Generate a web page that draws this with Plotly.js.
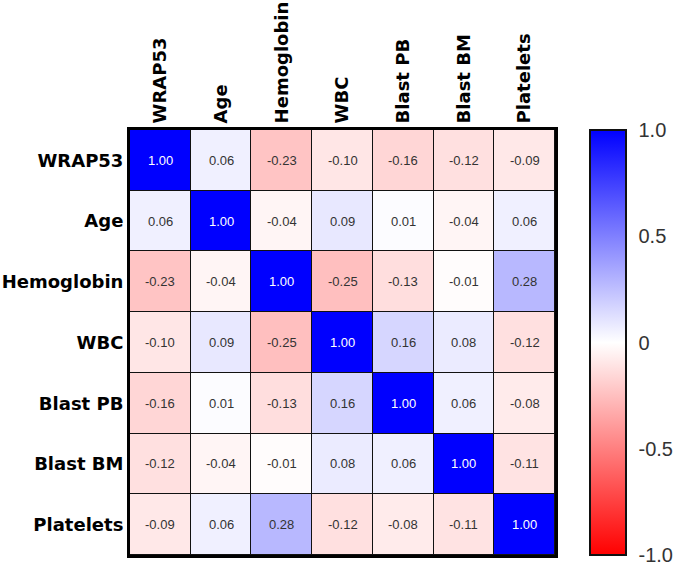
<!DOCTYPE html>
<html>
<head>
<meta charset="utf-8">
<script src="https://cdn.plot.ly/plotly-3.0.1.min.js"></script>
<style>body{margin:0;background:#fff}</style>
</head>
<body>
<div id="myDiv"></div>
<script>
var labels = ['WRAP53', 'Age', 'Hemoglobin', 'WBC', 'Blast PB', 'Blast BM', 'Platelets'];

var corr = [
  [1.00, 0.06, -0.23, -0.10, -0.16, -0.12, -0.09],
  [0.06, 1.00, -0.04, 0.09, 0.01, -0.04, 0.06],
  [-0.23, -0.04, 1.00, -0.25, -0.13, -0.01, 0.28],
  [-0.10, 0.09, -0.25, 1.00, 0.16, 0.08, -0.12],
  [-0.16, 0.01, -0.13, 0.16, 1.00, 0.06, -0.08],
  [-0.12, -0.04, -0.01, 0.08, 0.06, 1.00, -0.11],
  [-0.09, 0.06, 0.28, -0.12, -0.08, -0.11, 1.00]
];

var cbTicks = [-1, -0.5, 0, 0.5, 1];
var cbText = ['-1.0', '-0.5', '0', '0.5', '1.0'];

// cell labels
var notes = [];
for (var i = 0; i < labels.length; i++) {
  for (var j = 0; j < labels.length; j++) {
    var v = corr[i][j];
    notes.push({
      x: labels[j], y: labels[i], text: v.toFixed(2), showarrow: false,
      font: {family: 'Liberation Sans, Arial', size: 13, color: v > 0.9 ? '#ffffff' : '#333333'}
    });
  }
}

var labFont = {family: 'DejaVu Sans, sans-serif', size: 18, color: '#000', weight: 'bold'};

var trace = {
  type: 'heatmap',
  x: labels,
  y: labels,
  z: corr,
  zmin: -1, zmax: 1,
  xgap: 1, ygap: 1,
  colorscale: [[0, '#ff0000'], [0.5, '#ffffff'], [1, '#0000ff']],
  hoverinfo: 'skip',
  colorbar: {
    x: 1.082, xanchor: 'left', xref: 'paper', xpad: 0, ypad: 0,
    y: 0.5, yanchor: 'middle', len: 1, lenmode: 'fraction',
    thickness: 36, outlinewidth: 2, outlinecolor: '#111',
    tickvals: cbTicks, ticktext: cbText,
    ticks: 'outside', ticklen: 8, tickwidth: 2, tickcolor: 'rgba(0,0,0,0)',
    tickfont: {family: 'Liberation Sans, Arial', size: 20, color: '#333'}
  }
};

var layout = {
  width: 680, height: 567,
  margin: {l: 130, r: 125, t: 130, b: 12, autoexpand: false},
  plot_bgcolor: '#111',
  paper_bgcolor: '#fff',
  xaxis: {
    side: 'top', tickangle: -90, showgrid: false, zeroline: false,
    showline: true, mirror: true, linewidth: 3, linecolor: '#000',
    ticks: '', ticklen: 0, automargin: false,
    tickfont: labFont
  },
  yaxis: {
    autorange: 'reversed', showgrid: false, zeroline: false,
    showline: true, mirror: true, linewidth: 3, linecolor: '#000',
    ticks: '', ticklen: 0, automargin: false,
    tickfont: labFont
  },
  annotations: notes
};

Plotly.newPlot('myDiv', [trace], layout, {displayModeBar: false});
</script>
</body>
</html>
